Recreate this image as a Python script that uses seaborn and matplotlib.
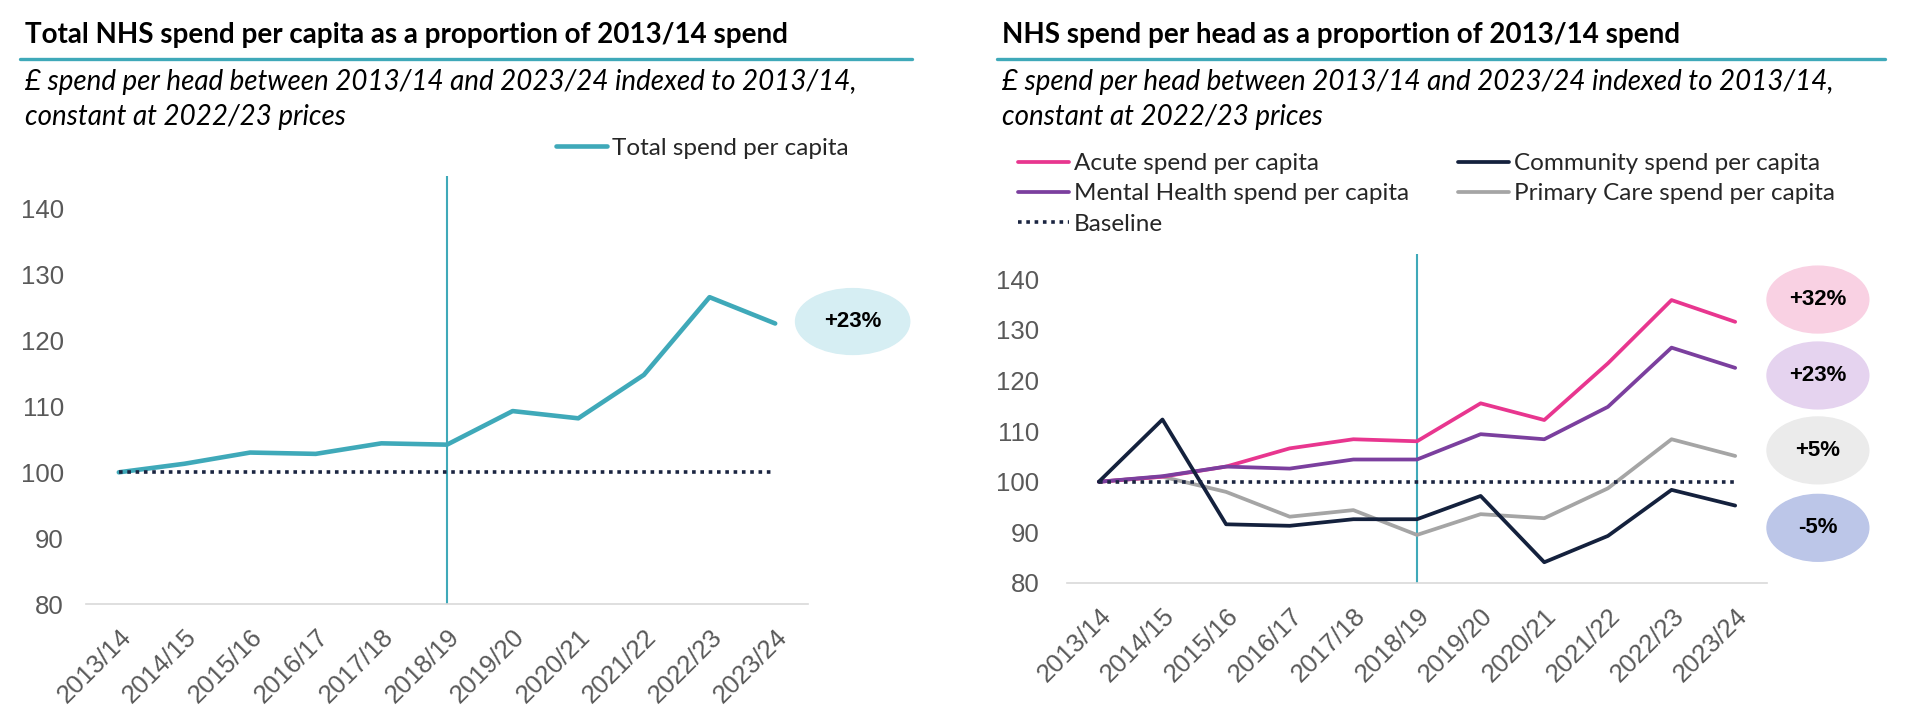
import numpy as np
import pandas as pd
import matplotlib
matplotlib.use('Agg')
import matplotlib.pyplot as plt
import seaborn as sns
from matplotlib.patches import Ellipse
from matplotlib.lines import Line2D

# data (index, 2013/14 = 100)
years = ['2013/14', '2014/15', '2015/16', '2016/17', '2017/18', '2018/19',
         '2019/20', '2020/21', '2021/22', '2022/23', '2023/24']
total = [100, 101.3, 103.0, 102.8, 104.4, 104.2, 109.3, 108.2, 114.8, 126.6, 122.6]
acute = [100, 101.0, 103.0, 106.6, 108.4, 108.0, 115.5, 112.2, 123.4, 135.9, 131.6]
mental = [100, 101.1, 103.0, 102.6, 104.4, 104.4, 109.4, 108.4, 114.8, 126.5, 122.5]
community = [100, 112.3, 91.6, 91.3, 92.6, 92.6, 97.2, 84.1, 89.3, 98.4, 95.3]
primary = [100, 101.0, 98.0, 93.1, 94.4, 89.5, 93.6, 92.8, 98.7, 108.4, 105.1]
baseline = [100] * len(years)
left_change = '+23%'
right_changes = ['+32%', '+23%', '+5%', '-5%']
yticks = [80, 90, 100, 110, 120, 130, 140]
split_year = '2018/19'

left_title = 'Total NHS spend per capita as a proportion of 2013/14 spend'
right_title = 'NHS spend per head as a proportion of 2013/14 spend'
sub1 = '£ spend per head between 2013/14 and 2023/24 indexed to 2013/14,'
sub2 = 'constant at 2022/23 prices'

TEAL = '#3FA9B9'
C_ACUTE = '#E8368F'
C_MENTAL = '#7B3F9E'
C_COMM = '#14213D'
C_PRIM = '#A5A5A5'
C_BASE = '#1B2541'

sns.set_style('white')
plt.rcParams['font.family'] = ['Lato', 'DejaVu Sans']

W, H = 1920, 720
fig = plt.figure(figsize=(19.2, 7.2), dpi=100)


def fx(px):
    return px / W


def fy(py):
    return 1 - py / H


x = np.arange(len(years))
df = pd.DataFrame({'x': x, 'year': years, 'total': total, 'acute': acute,
                   'mental': mental, 'community': community,
                   'primary': primary, 'baseline': baseline})

# axes placed from pixel measurements of the reference
axL = fig.add_axes([fx(86), fy(604), fx(808 - 86), (604 - 176) / H])
axR = fig.add_axes([fx(1067), fy(583), fx(1767 - 1067), (583 - 254) / H])


def style_axis(ax, ypad):
    ax.set_xlim(-0.5, len(years) - 0.5)
    ax.set_ylim(80, 145)
    ax.set_yticks(yticks)
    ax.set_xticks(x)
    ax.set_xticklabels(years)
    ax.set_xlabel('')
    ax.set_ylabel('')
    for s in ['top', 'right', 'left']:
        ax.spines[s].set_visible(False)
    ax.spines['bottom'].set_color('#D9D9D9')
    ax.spines['bottom'].set_linewidth(1.2)
    ax.tick_params(axis='y', length=0, pad=ypad, labelsize=18.5, labelcolor='#595959')
    ax.tick_params(axis='x', length=0, pad=15, labelsize=18.5, labelcolor='#595959')
    for lab in ax.get_xticklabels() + ax.get_yticklabels():
        lab.set_family(['Liberation Sans', 'DejaVu Sans'])
    plt.setp(ax.get_xticklabels(), rotation=45, ha='right', rotation_mode='anchor')
    ax.axvline(years.index(split_year), color=TEAL, lw=1.5, zorder=1)


# ---- left panel
sns.lineplot(data=df, x='x', y='baseline', ax=axL, color=C_BASE, lw=2.6,
             linestyle=(0, (1, 1.3)), zorder=4)
sns.lineplot(data=df, x='x', y='total', ax=axL, color=TEAL, lw=3.3, zorder=3)
style_axis(axL, 16)
hL = axL.get_lines()[1]
fig.legend([hL], ['Total spend per capita'], loc='center left',
           bbox_to_anchor=(fx(556), fy(148)), bbox_transform=fig.transFigure,
           frameon=False, fontsize=17.5, handlelength=2.1, handletextpad=0.2,
           borderpad=0, borderaxespad=0)
axL.add_patch(Ellipse((11.18, total[-1] + 0.3), 1.74, 10.0, color='#D6EEF3',
                      clip_on=False, zorder=2))
axL.text(11.18, total[-1] + 0.3, left_change, ha='center', va='center',
         fontsize=16, fontweight='bold', color='black',
         family=['Liberation Sans', 'DejaVu Sans'])

# ---- right panel
series = [('Primary Care spend per capita', 'primary', C_PRIM),
          ('Acute spend per capita', 'acute', C_ACUTE),
          ('Mental Health spend per capita', 'mental', C_MENTAL),
          ('Community spend per capita', 'community', C_COMM)]
handles = {}
for label, col, c in series:
    sns.lineplot(data=df, x='x', y=col, ax=axR, color=c, lw=2.7, zorder=3)
    handles[label] = axR.get_lines()[-1]
sns.lineplot(data=df, x='x', y='baseline', ax=axR, color=C_BASE, lw=2.6,
             linestyle=(0, (1, 1.3)), zorder=4)
handles['Baseline'] = axR.get_lines()[-1]
style_axis(axR, 20)

order = ['Acute spend per capita', 'Mental Health spend per capita', 'Baseline',
         'Community spend per capita', 'Primary Care spend per capita']
fig.legend([handles[k] for k in order], order, loc='upper left', ncol=2,
           bbox_to_anchor=(fx(1018), fy(153)), bbox_transform=fig.transFigure,
           frameon=False, fontsize=17.5, handlelength=2.1, handletextpad=0.2,
           labelspacing=0.38, columnspacing=2.0, borderpad=0, borderaxespad=0)

bubble_y = [136.0, 121.0, 106.2, 90.9]
bubble_c = ['#F9D1E3', '#E5D3EF', '#EBEBEB', '#BCC6E8']
for txt, yy, c in zip(right_changes, bubble_y, bubble_c):
    axR.add_patch(Ellipse((11.3, yy), 1.6, 13.2, color=c, clip_on=False, zorder=2))
    axR.text(11.3, yy, txt, ha='center', va='center', fontsize=16,
             fontweight='bold', color='black',
             family=['Liberation Sans', 'DejaVu Sans'])

# ---- titles, rules and subtitles
for x0, x1, title in [(25, 912, left_title), (1002, 1885, right_title)]:
    fig.text(fx(x0), fy(43), title, ha='left', va='baseline', fontsize=20,
             fontweight='bold', color='black')
    fig.add_artist(Line2D([fx(x0 - 5), fx(x1)], [fy(59), fy(59)], color=TEAL, lw=2.4))
    fig.text(fx(x0), fy(90), sub1, ha='left', va='baseline', fontsize=20,
             style='italic', color='black')
    fig.text(fx(x0), fy(125), sub2, ha='left', va='baseline', fontsize=20,
             style='italic', color='black')

fig.savefig('out.png', dpi=100, facecolor='white')
